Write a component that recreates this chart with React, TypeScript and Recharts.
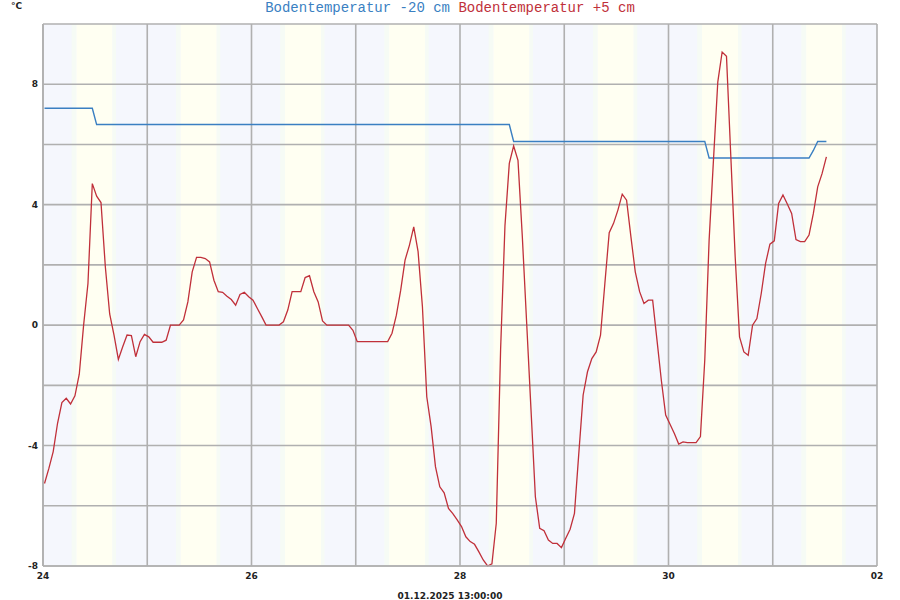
import React from "react";
import { ComposedChart, Line, XAxis, YAxis, CartesianGrid, ReferenceArea } from "recharts";

// Hourly soil temperatures, 24.11. – 01.12.2025 13:00 (°C)
const FIRST_SAMPLE_H = 0.35;

const SOIL_MINUS_20 = [
  7.2, 7.2, 7.2, 7.2, 7.2, 7.2, 7.2, 7.2, 7.2, 7.2, 7.2, 7.2,
  6.66, 6.66, 6.66, 6.66, 6.66, 6.66, 6.66, 6.66, 6.66, 6.66, 6.66, 6.66,
  6.66, 6.66, 6.66, 6.66, 6.66, 6.66, 6.66, 6.66, 6.66, 6.66, 6.66, 6.66,
  6.66, 6.66, 6.66, 6.66, 6.66, 6.66, 6.66, 6.66, 6.66, 6.66, 6.66, 6.66,
  6.66, 6.66, 6.66, 6.66, 6.66, 6.66, 6.66, 6.66, 6.66, 6.66, 6.66, 6.66,
  6.66, 6.66, 6.66, 6.66, 6.66, 6.66, 6.66, 6.66, 6.66, 6.66, 6.66, 6.66,
  6.66, 6.66, 6.66, 6.66, 6.66, 6.66, 6.66, 6.66, 6.66, 6.66, 6.66, 6.66,
  6.66, 6.66, 6.66, 6.66, 6.66, 6.66, 6.66, 6.66, 6.66, 6.66, 6.66, 6.66,
  6.66, 6.66, 6.66, 6.66, 6.66, 6.66, 6.66, 6.66, 6.66, 6.66, 6.66, 6.66,
  6.1, 6.1, 6.1, 6.1, 6.1, 6.1, 6.1, 6.1, 6.1, 6.1, 6.1, 6.1,
  6.1, 6.1, 6.1, 6.1, 6.1, 6.1, 6.1, 6.1, 6.1, 6.1, 6.1, 6.1,
  6.1, 6.1, 6.1, 6.1, 6.1, 6.1, 6.1, 6.1, 6.1, 6.1, 6.1, 6.1,
  6.1, 6.1, 6.1, 6.1, 6.1, 6.1, 6.1, 6.1, 6.1, 5.55, 5.55, 5.55,
  5.55, 5.55, 5.55, 5.55, 5.55, 5.55, 5.55, 5.55, 5.55, 5.55, 5.55, 5.55,
  5.55, 5.55, 5.55, 5.55, 5.55, 5.55, 5.55, 5.55, 5.55, 5.8, 6.1, 6.1,
  6.1,
];

const SOIL_PLUS_5 = [
  -5.26, -4.76, -4.2, -3.26, -2.57, -2.43, -2.62, -2.35, -1.63, 0.0, 1.38, 4.7,
  4.28, 4.07, 1.94, 0.37, -0.33, -1.14, -0.72, -0.33, -0.35, -1.05, -0.55, -0.31,
  -0.39, -0.57, -0.57, -0.57, -0.5, 0.0, 0.0, 0.0, 0.17, 0.77, 1.77, 2.25,
  2.25, 2.21, 2.1, 1.49, 1.11, 1.09, 0.96, 0.85, 0.66, 1.02, 1.09, 0.94,
  0.83, 0.55, 0.28, 0.0, 0.0, 0.0, 0.0, 0.11, 0.5, 1.11, 1.11, 1.11,
  1.58, 1.64, 1.11, 0.77, 0.14, 0.0, 0.0, 0.0, 0.0, 0.0, 0.0, -0.17,
  -0.55, -0.55, -0.55, -0.55, -0.55, -0.55, -0.55, -0.55, -0.27, 0.33, 1.16, 2.16,
  2.65, 3.26, 2.44, 0.61, -2.38, -3.37, -4.7, -5.37, -5.57, -6.09, -6.26, -6.47,
  -6.69, -7.03, -7.19, -7.28, -7.53, -7.8, -8.0, -7.93, -6.58, -0.8, 3.3, 5.37,
  5.95, 5.47, 2.93, 0.06, -2.82, -5.7, -6.75, -6.83, -7.14, -7.25, -7.25, -7.39,
  -7.08, -6.78, -6.25, -4.26, -2.32, -1.55, -1.11, -0.89, -0.33, 1.38, 3.07, 3.38,
  3.82, 4.35, 4.15, 2.93, 1.77, 1.11, 0.72, 0.83, 0.83, -0.5, -1.83, -2.99,
  -3.29, -3.6, -3.95, -3.88, -3.9, -3.9, -3.9, -3.7, -1.16, 2.82, 5.48, 8.08,
  9.07, 8.93, 5.59, 2.27, -0.39, -0.89, -1.0, 0.0, 0.22, 1.05, 2.05, 2.69,
  2.8, 4.04, 4.32, 4.02, 3.71, 2.84, 2.77, 2.77, 2.99, 3.71, 4.59, 5.03,
  5.59,
];

const DAY_LABELS = ["24", "25", "26", "27", "28", "29", "30", "01", "02"];
const Y_TICKS = [-8, -6, -4, -2, 0, 2, 4, 6, 8, 10];
const Y_LABELLED = [-8, -4, 0, 4, 8];

// twilight / daylight within each day, hours after midnight
const DAWN = 6.6;
const SUNRISE = 7.7;
const SUNSET = 16.0;
const DUSK = 16.8;

const BLUE = "#3a7fc2";
const RED = "#c0303a";
const NIGHT = "#f5f7fd";
const TWILIGHT = "#f6fbf5";
const DAY = "#fffff2";
const GRID = "#b0b0b0";

const rows = SOIL_PLUS_5.map((v, i) => ({
  t: FIRST_SAMPLE_H + i,
  p5: v,
  m20: SOIL_MINUS_20[i],
}));

const dayTicks = DAY_LABELS.map((_, i) => i * 24);

const tickFont = { fontFamily: "DejaVu Sans", fontSize: 9, fontWeight: "bold" as const, fill: "#222" };

function YTick(props: any) {
  const { x, y, payload } = props;
  if (!Y_LABELLED.includes(payload.value)) return null;
  return (
    <text x={x - 5} y={y} textAnchor="end" dominantBaseline="central" {...tickFont}>
      {payload.value}
    </text>
  );
}

function XTick(props: any) {
  const { x, y, payload, index } = props;
  if (index % 2 !== 0) return null;
  return (
    <text x={x} y={y + 10} textAnchor="middle" dominantBaseline="central" {...tickFont}>
      {DAY_LABELS[index]}
    </text>
  );
}

export default function App() {
  const days = DAY_LABELS.slice(0, -1).map((_, i) => i * 24);
  return (
    <div style={{ position: "absolute", left: 0, top: 0, width: 900, height: 600, background: "#fff" }}>
      <div
        style={{
          position: "absolute", left: 0, top: 0, width: 900, textAlign: "center",
          fontFamily: "'Liberation Mono', monospace", fontSize: 14, lineHeight: "16px", whiteSpace: "pre",
        }}
      >
        <span style={{ color: BLUE }}>Bodentemperatur -20 cm</span>{" "}
        <span style={{ color: RED }}>Bodentemperatur +5 cm</span>
      </div>
      <div
        style={{
          position: "absolute", left: 11, top: 0, fontFamily: "DejaVu Sans", fontSize: 9,
          fontWeight: "bold", lineHeight: "12px", color: "#222",
        }}
      >
        °C
      </div>
      <div
        style={{
          position: "absolute", left: 0, top: 589, width: 900, textAlign: "center",
          fontFamily: "DejaVu Sans", fontSize: 9, fontWeight: "bold", lineHeight: "14px", color: "#222",
        }}
      >
        01.12.2025 13:00:00
      </div>

      <ComposedChart
        width={900}
        height={600}
        data={rows}
        margin={{ top: 24, right: 23, left: 0, bottom: 0 }}
        style={{ position: "absolute", left: 0, top: 0 }}
      >
        <ReferenceArea x1={0} x2={192} y1={-8} y2={10} fill={NIGHT} fillOpacity={1} stroke="none" zIndex={-300} ifOverflow="hidden" />
        {days.map((d) => (
          <React.Fragment key={d}>
            <ReferenceArea x1={d + DAWN} x2={d + SUNRISE} fill={TWILIGHT} fillOpacity={1} stroke="none" zIndex={-200} />
            <ReferenceArea x1={d + SUNRISE} x2={d + SUNSET} fill={DAY} fillOpacity={1} stroke="none" zIndex={-200} />
            <ReferenceArea x1={d + SUNSET} x2={d + DUSK} fill={TWILIGHT} fillOpacity={1} stroke="none" zIndex={-200} />
          </React.Fragment>
        ))}
        <CartesianGrid stroke={GRID} strokeWidth={1.6} />
        <XAxis
          dataKey="t"
          type="number"
          domain={[0, 192]}
          ticks={dayTicks}
          interval={0}
          height={34}
          tickSize={0}
          tickMargin={0}
          tickLine={false}
          axisLine={{ stroke: GRID, strokeWidth: 1.6 }}
          tick={<XTick />}
        />
        <YAxis
          type="number"
          domain={[-8, 10]}
          ticks={Y_TICKS}
          interval={0}
          width={43}
          tickSize={0}
          tickMargin={0}
          tickLine={false}
          axisLine={{ stroke: GRID, strokeWidth: 1.6 }}
          tick={<YTick />}
        />
        <Line
          type="linear"
          dataKey="m20"
          stroke={BLUE}
          strokeWidth={1.4}
          dot={false}
          isAnimationActive={false}
        />
        <Line
          type="linear"
          dataKey="p5"
          stroke={RED}
          strokeWidth={1.3}
          dot={false}
          isAnimationActive={false}
        />
      </ComposedChart>
    </div>
  );
}
